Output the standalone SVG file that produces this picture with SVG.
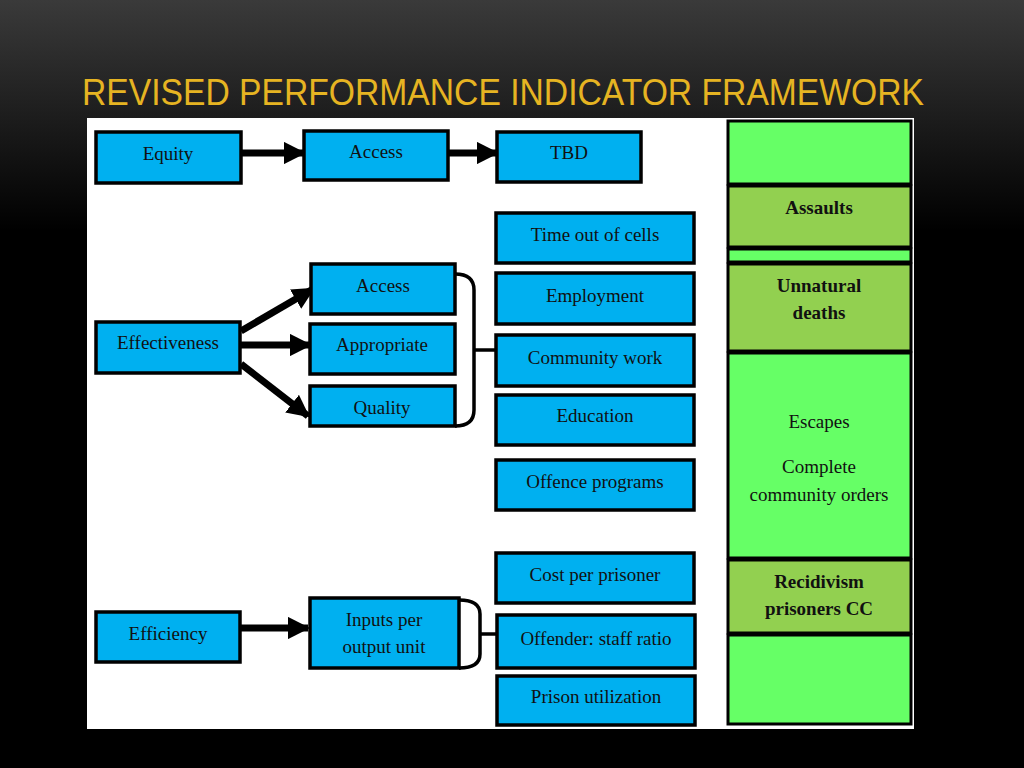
<svg xmlns="http://www.w3.org/2000/svg" width="1024" height="768" viewBox="0 0 1024 768">
<defs>
<linearGradient id="bg" x1="0" y1="0" x2="0" y2="1"><stop offset="0" stop-color="#3a3a3a"/><stop offset="0.3" stop-color="#000"/><stop offset="1" stop-color="#000"/></linearGradient>
<marker id="ah" viewBox="0 0 10 10" refX="9" refY="5" markerWidth="3.2" markerHeight="3.2" orient="auto" markerUnits="strokeWidth"><path d="M0,0 L10,5 L0,10 Z" fill="#000"/></marker>
</defs>
<style>
.b{fill:#00B0F0;stroke:#000;stroke-width:3.5}
.t{font-family:"Liberation Serif",serif;font-size:19px;fill:#111;text-anchor:middle}
.g{font-family:"Liberation Serif",serif;font-size:19px;fill:#111;text-anchor:middle;font-weight:bold}
.bright{fill:#66FF66;stroke:#000;stroke-width:3}
.olive{fill:#92D050;stroke:#000;stroke-width:3}
.a{stroke:#000;stroke-width:7;fill:none;marker-end:url(#ah)}
.br{stroke:#000;stroke-width:3.5;fill:none}
</style>
<rect width="1024" height="768" fill="url(#bg)"/>
<text x="82" y="105" font-family="Liberation Sans,sans-serif" font-size="36" fill="#E6B422" textLength="842" lengthAdjust="spacingAndGlyphs">REVISED PERFORMANCE INDICATOR FRAMEWORK</text>
<rect x="87" y="118" width="827" height="611" fill="#fff"/>
<g id="green">
<rect class="bright" x="728" y="121" width="183" height="63"/>
<rect class="olive" x="728" y="186" width="183" height="61"/>
<rect class="bright" x="728" y="249" width="183" height="13"/>
<rect class="olive" x="728" y="264" width="183" height="87"/>
<rect class="bright" x="728" y="353" width="183" height="205"/>
<rect class="olive" x="728" y="560" width="183" height="73"/>
<rect class="bright" x="728" y="635" width="183" height="89"/>
<text class="g" x="819" y="214">Assaults</text>
<text class="g" x="819" y="292">Unnatural</text>
<text class="g" x="819" y="319">deaths</text>
<text class="t" x="819" y="428">Escapes</text>
<text class="t" x="819" y="473">Complete</text>
<text class="t" x="819" y="501">community orders</text>
<text class="g" x="819" y="588">Recidivism</text>
<text class="g" x="819" y="615">prisoners CC</text>
</g>
<g id="connectors">
<line class="a" x1="241" y1="153" x2="304" y2="153"/>
<line class="a" x1="448" y1="153" x2="497" y2="153"/>
<line class="a" x1="241" y1="331" x2="313" y2="289"/>
<line class="a" x1="241" y1="345" x2="310" y2="345"/>
<line class="a" x1="241" y1="364" x2="308" y2="416"/>
<line class="a" x1="241" y1="628" x2="308" y2="628"/>
<path class="br" d="M455,274 Q474,274 474,290 L474,410 Q474,426 455,426"/>
<line class="br" x1="474" y1="350" x2="496" y2="350"/>
<path class="br" d="M459,600 Q480,600 480,614 L480,654 Q480,668 459,668"/>
<line class="br" x1="480" y1="634" x2="497" y2="634"/>
</g>
<g id="n-equity"><rect class="b" x="96" y="132" width="145" height="51"/><text class="t" x="168" y="160">Equity</text></g>
<g id="n-access1"><rect class="b" x="304" y="131" width="144" height="49"/><text class="t" x="376" y="158">Access</text></g>
<g id="n-tbd"><rect class="b" x="497" y="132" width="144" height="50"/><text class="t" x="569" y="159">TBD</text></g>
<g id="n-time"><rect class="b" x="496" y="213" width="198" height="50"/><text class="t" x="595" y="241">Time out of cells</text></g>
<g id="n-emp"><rect class="b" x="496" y="273" width="198" height="51"/><text class="t" x="595" y="302">Employment</text></g>
<g id="n-comm"><rect class="b" x="496" y="335" width="198" height="51"/><text class="t" x="595" y="364">Community work</text></g>
<g id="n-edu"><rect class="b" x="496" y="395" width="198" height="50"/><text class="t" x="595" y="422">Education</text></g>
<g id="n-off"><rect class="b" x="496" y="460" width="198" height="50"/><text class="t" x="595" y="488">Offence programs</text></g>
<g id="n-cost"><rect class="b" x="496" y="553" width="198" height="50"/><text class="t" x="595" y="581">Cost per prisoner</text></g>
<g id="n-ratio"><rect class="b" x="497" y="615" width="198" height="53"/><text class="t" x="596" y="645">Offender: staff ratio</text></g>
<g id="n-util"><rect class="b" x="497" y="676" width="198" height="49"/><text class="t" x="596" y="703">Prison utilization</text></g>
<g id="n-access2"><rect class="b" x="311" y="264" width="144" height="50"/><text class="t" x="383" y="292">Access</text></g>
<g id="n-approp"><rect class="b" x="310" y="324" width="145" height="50"/><text class="t" x="382" y="351">Appropriate</text></g>
<g id="n-quality"><rect class="b" x="310" y="386" width="145" height="40"/><text class="t" x="382" y="414">Quality</text></g>
<g id="n-eff"><rect class="b" x="96" y="322" width="144" height="51"/><text class="t" x="168" y="349">Effectiveness</text></g>
<g id="n-effic"><rect class="b" x="96" y="612" width="144" height="50"/><text class="t" x="168" y="640">Efficiency</text></g>
<g id="n-inputs"><rect class="b" x="310" y="598" width="149" height="70"/><text class="t" x="384" y="626">Inputs per</text><text class="t" x="384" y="653">output unit</text></g>
</svg>
